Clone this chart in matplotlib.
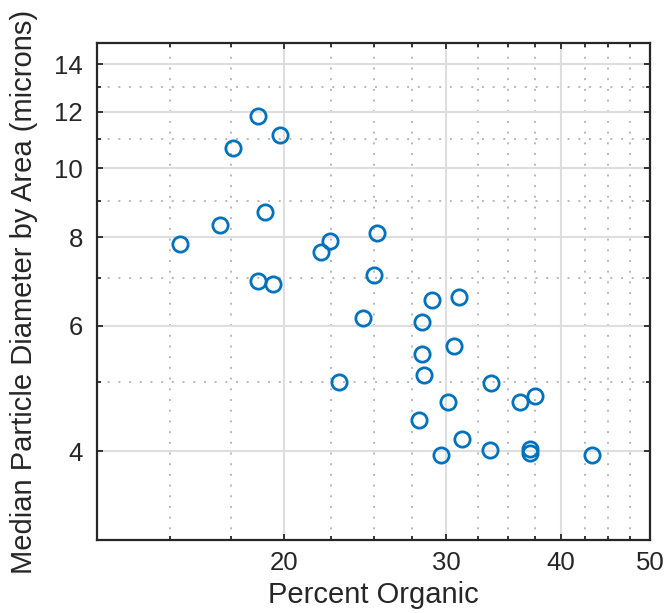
import matplotlib
matplotlib.use("Agg")
import matplotlib.pyplot as plt
from matplotlib.ticker import FixedLocator, NullFormatter, FixedFormatter

plt.rcParams['font.family'] = ['Liberation Sans', 'DejaVu Sans']

percent_organic = [15.4, 17.0, 17.6, 18.7, 19.8, 19.05, 18.7, 19.45, 21.9, 22.4,
                   25.2, 25.0, 24.35, 22.9, 28.95, 30.95, 28.2, 30.6, 28.2, 28.4,
                   33.55, 30.1, 36.1, 37.5, 28.0, 31.2, 33.5, 37.0, 37.0, 29.6, 43.2]
diameter = [7.82, 8.31, 10.67, 11.84, 11.14, 8.68, 6.94, 6.87, 7.62, 7.90,
            8.10, 7.07, 6.16, 5.00, 6.53, 6.58, 6.08, 5.63, 5.48, 5.12,
            4.99, 4.69, 4.69, 4.78, 4.43, 4.16, 4.02, 4.03, 3.97, 3.95, 3.95]

x_major = [20, 30, 40, 50]
x_minor = [12.5, 15, 17.5, 22.5, 25, 27.5, 32.5, 35, 37.5, 42.5, 45, 47.5]
y_major = [4, 6, 8, 10, 12, 14]
y_minor = [5, 7, 9, 11, 13]

txt = '#262626'
fig = plt.figure(figsize=(6.65, 6.13), dpi=100)
ax = fig.add_axes([97/665, 1 - 540/613, (650-97)/665, (540-43)/613])
ax.set_xscale('log')
ax.set_yscale('log')
ax.set_xlim(12.5, 50)
ax.set_ylim(3, 15)

ax.plot(percent_organic, diameter, linestyle='none', marker='o', markersize=11,
        markerfacecolor='none', markeredgecolor='#0072BD', markeredgewidth=2.0, zorder=3)

ax.xaxis.set_major_locator(FixedLocator(x_major))
ax.xaxis.set_major_formatter(FixedFormatter([str(v) for v in x_major]))
ax.xaxis.set_minor_locator(FixedLocator(x_minor))
ax.xaxis.set_minor_formatter(NullFormatter())
ax.yaxis.set_major_locator(FixedLocator(y_major))
ax.yaxis.set_major_formatter(FixedFormatter([str(v) for v in y_major]))
ax.yaxis.set_minor_locator(FixedLocator(y_minor))
ax.yaxis.set_minor_formatter(NullFormatter())

ax.grid(True, which='major', color='#dedede', linewidth=1.5, linestyle='-', zorder=0)
ax.grid(True, which='minor', color='#b8b8b8', linewidth=1.4, linestyle=(0, (1, 4.5)), zorder=0)
ax.set_axisbelow(True)

for s in ax.spines.values():
    s.set_color(txt)
    s.set_linewidth(1.6)

ax.tick_params(which='both', direction='in', top=True, right=True, colors=txt,
               labelsize=18.5, width=1.3)
ax.tick_params(which='major', length=4.5)
ax.tick_params(axis='x', which='major', pad=8)
ax.tick_params(axis='y', which='major', pad=10)
ax.tick_params(which='minor', length=3)

ax.set_xlabel('Percent Organic', fontsize=21, color=txt, labelpad=4)
ax.set_ylabel('Median Particle Diameter by Area (microns)', fontsize=21, color=txt, labelpad=12)

fig.savefig('out.png', dpi=100)
